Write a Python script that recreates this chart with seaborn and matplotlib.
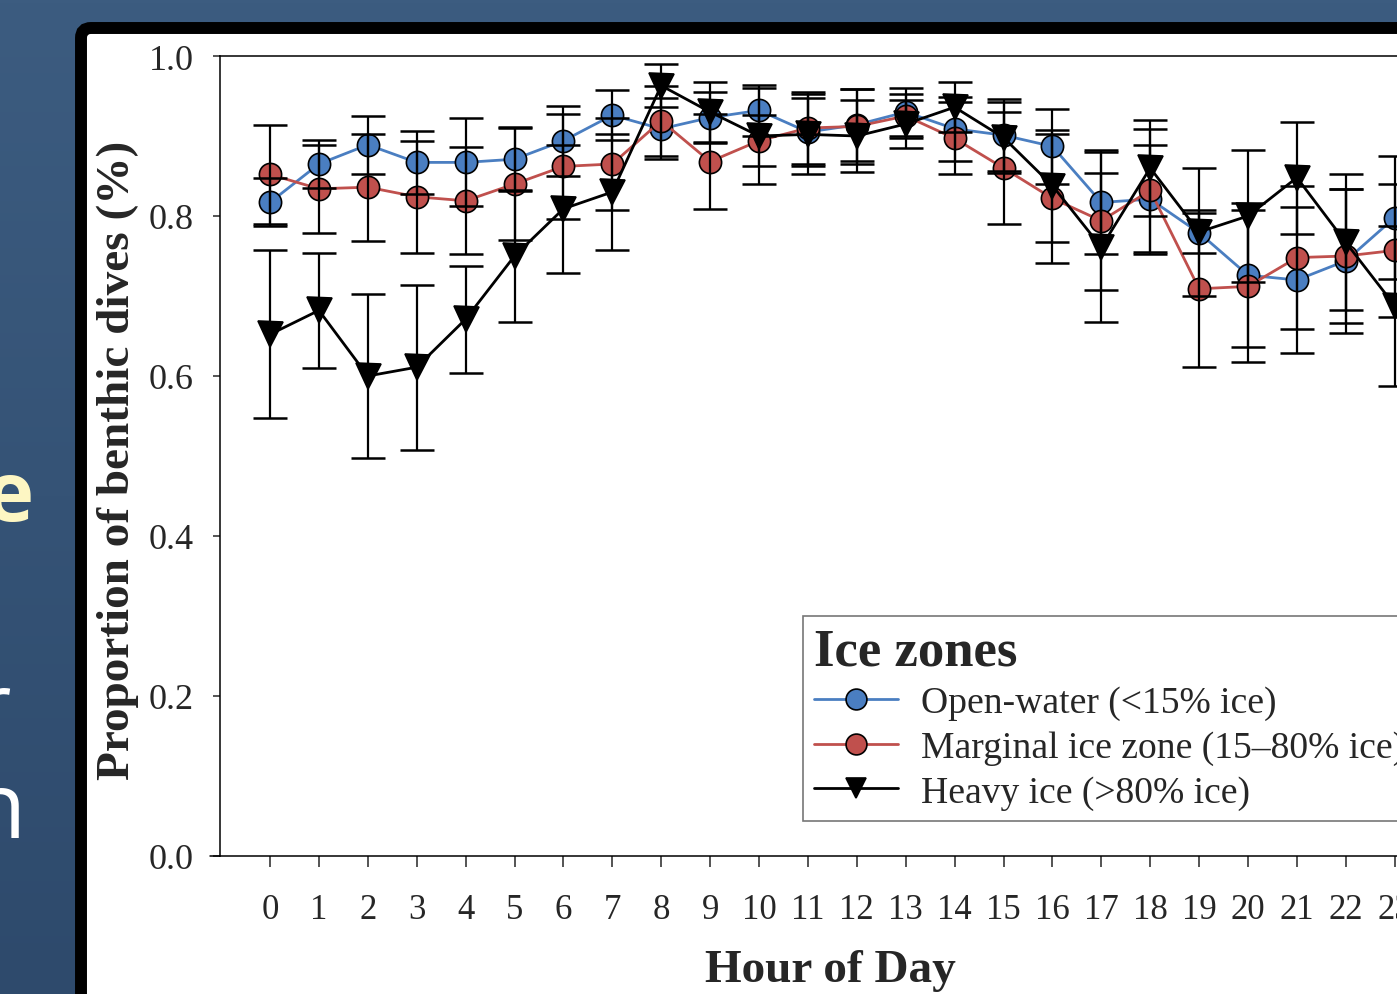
import matplotlib
matplotlib.use("Agg")
import matplotlib.pyplot as plt
import numpy as np
import pandas as pd
import seaborn as sns
from matplotlib.lines import Line2D
from matplotlib.patches import FancyBboxPatch

# hourly proportion of benthic dives
hours = list(range(24))
open_water = [0.817, 0.865, 0.889, 0.867, 0.867, 0.871, 0.894, 0.926, 0.909, 0.923, 0.932, 0.905,
              0.914, 0.930, 0.909, 0.901, 0.887, 0.817, 0.821, 0.779, 0.726, 0.720, 0.744, 0.798]
open_err = [0.030, 0.030, 0.036, 0.039, 0.055, 0.040, 0.044, 0.031, 0.038, 0.032, 0.032, 0.042,
            0.045, 0.030, 0.040, 0.045, 0.047, 0.065, 0.068, 0.025, 0.090, 0.091, 0.090, 0.077]
marginal = [0.852, 0.834, 0.836, 0.824, 0.819, 0.840, 0.862, 0.865, 0.919, 0.868, 0.894, 0.910,
            0.912, 0.925, 0.897, 0.860, 0.822, 0.794, 0.832, 0.709, 0.712, 0.748, 0.750, 0.757]
marginal_err = [0.062, 0.055, 0.067, 0.070, 0.067, 0.070, 0.066, 0.058, 0.044, 0.059, 0.032, 0.045,
                0.047, 0.028, 0.045, 0.070, 0.081, 0.086, 0.077, 0.098, 0.095, 0.089, 0.084, 0.083]
heavy = [0.652, 0.682, 0.600, 0.611, 0.671, 0.750, 0.809, 0.830, 0.963, 0.930, 0.900, 0.902,
         0.900, 0.915, 0.936, 0.898, 0.838, 0.761, 0.860, 0.780, 0.800, 0.848, 0.767, 0.688]
heavy_err = [0.105, 0.072, 0.103, 0.103, 0.067, 0.083, 0.080, 0.072, 0.027, 0.037, 0.060, 0.050,
             0.045, 0.030, 0.031, 0.044, 0.070, 0.093, 0.060, 0.080, 0.082, 0.070, 0.085, 0.100]

zones = ["Open-water (<15% ice)", "Marginal ice zone (15\u201380% ice)", "Heavy ice (>80% ice)"]
colors = ["#4a7ec1", "#c0504d", "#000000"]
markers = ["o", "o", "v"]
sizes = [16, 16, 18]

df = pd.concat([
    pd.DataFrame({"hour": hours, "prop": open_water, "err": open_err, "zone": zones[0]}),
    pd.DataFrame({"hour": hours, "prop": marginal, "err": marginal_err, "zone": zones[1]}),
    pd.DataFrame({"hour": hours, "prop": heavy, "err": heavy_err, "zone": zones[2]}),
], ignore_index=True)

sns.set_style("ticks")
plt.rcParams["font.family"] = ["Liberation Serif", "DejaVu Serif"]

W, H = 1397, 995
fig = plt.figure(figsize=(W / 100, H / 100), dpi=100)

# slide background
bg = fig.add_axes([0, 0, 1, 1], zorder=-10)
grad = np.linspace(0, 1, 256).reshape(-1, 1)
bg.imshow(grad, aspect="auto", cmap=matplotlib.colors.LinearSegmentedColormap.from_list(
    "bg", ["#3c5c80", "#2e4a6c"]), extent=[0, 1, 0, 1])
bg.set_axis_off()
bg.text(34 / W, 1 - 521 / H, "e", color="#fdf6c3", fontsize=60, fontweight="bold",
        family=["Open Sans", "DejaVu Sans"], ha="right", va="baseline")
bg.text(11 / W, 1 - 738 / H, "r", color="white", fontsize=66,
        family=["Open Sans", "DejaVu Sans"], ha="right", va="baseline")
bg.text(25 / W, 1 - 838 / H, "n", color="white", fontsize=66,
        family=["Open Sans", "DejaVu Sans"], ha="right", va="baseline")

# white panel with thick black border
panel = FancyBboxPatch((0.81, -1.0), 20, 9.66 + 1.0,
                       boxstyle="round,pad=0,rounding_size=0.1",
                       transform=fig.dpi_scale_trans, facecolor="white",
                       edgecolor="black", linewidth=8.6, zorder=-5)
fig.patches.append(panel)

# axes: 0 at x=270 px, 48.9 px per hour, y 0..1 over 800 px
x0, step = 270, 48.9
xmin, xmax = -1.02, 24.0
left = x0 + xmin * step
ax = fig.add_axes([left / W, (H - 857) / H, (xmax - xmin) * step / W, 800 / H])
ax.set_facecolor("none")

for z, c, m, s in zip(zones, colors, markers, sizes):
    sns.lineplot(data=df[df["zone"] == z], x="hour", y="prop", color=c, marker=m,
                 linewidth=2.0, markersize=s, markeredgecolor="black",
                 markeredgewidth=1.2, legend=False, ax=ax)

for z in zones:
    d = df[df["zone"] == z]
    ax.errorbar(d["hour"], d["prop"], yerr=d["err"], fmt="none", ecolor="black",
                elinewidth=1.6, capsize=12, capthick=1.8, zorder=3)

ax.set_xlim(xmin, xmax)
ax.set_ylim(0, 1.0)
ax.set_xticks(hours)
ax.set_yticks(np.arange(0, 1.01, 0.2))
ax.set_yticklabels([f"{v:.1f}" for v in np.arange(0, 1.01, 0.2)])
ax.tick_params(axis="y", direction="out", length=5, width=1.1, pad=14, labelsize=26)
ax.tick_params(axis="x", direction="out", length=8, width=1.1, pad=19, labelsize=25)
for s in ["left", "bottom", "top"]:
    ax.spines[s].set_linewidth(1.1)
    ax.spines[s].set_color("black")
ax.spines["right"].set_visible(False)
ax.set_xlabel("")
ax.set_ylabel("")
# x-axis line runs a little past the y-axis
ax.plot([-0.008, 0], [0, 0], transform=ax.transAxes, color="black", lw=1.1, clip_on=False)

fig.text(118 / W, 1 - 460 / H, "Proportion of benthic dives (%)", rotation=90,
         fontsize=34, fontweight="bold", ha="center", va="center")
fig.text(830 / W, 1 - 971 / H, "Hour of Day", fontsize=34, fontweight="bold",
         ha="center", va="center")

handles = [Line2D([], [], color=c, marker=m, markersize=15, markeredgecolor="black",
                  markeredgewidth=1.2, linewidth=2.0)
           for c, m in zip(colors, markers)]
leg = ax.legend(handles, zones, title="Ice zones", loc="upper left",
                bbox_to_anchor=(803 / W, 1 - 617 / H), bbox_transform=fig.transFigure,
                borderaxespad=0, fontsize=27.1, title_fontproperties={"weight": "bold", "size": 38},
                alignment="left", handlelength=2.22, handletextpad=0.62, labelspacing=0.27,
                borderpad=0.3, fancybox=False, frameon=True)
leg.get_frame().set_edgecolor("#555555")
leg.get_frame().set_linewidth(1.2)

fig.savefig("out.png", dpi=100)
